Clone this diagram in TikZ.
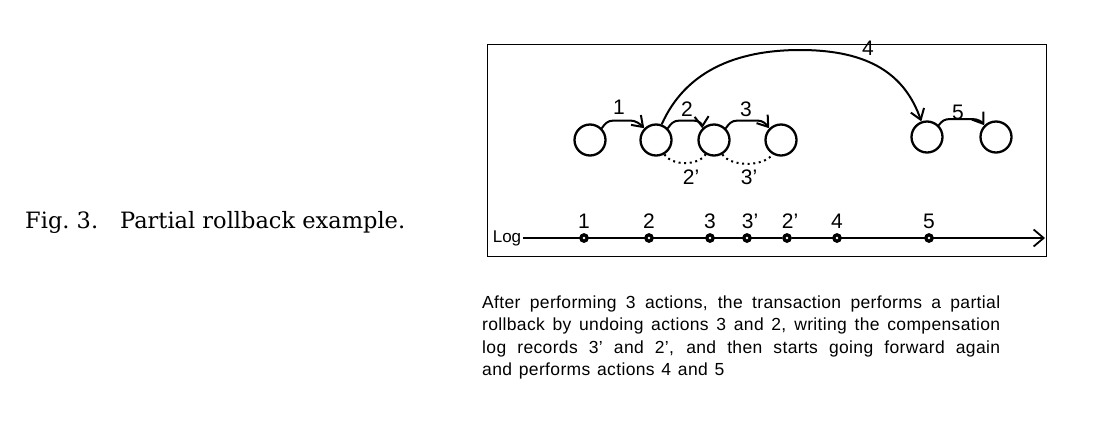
\documentclass[tikz,border=0pt]{standalone}
\usepackage{fontspec}
\setsansfont{Liberation Sans}
\newfontfamily\parafont[LetterSpace=2,WordSpace=1.3]{Liberation Sans}
\newfontfamily\capfont{DejaVu Serif}
\usetikzlibrary{arrows.meta}
\begin{document}
\begin{tikzpicture}[x=1pt,y=-1pt,
  st/.style={circle,draw,line width=2.3pt,minimum size=31pt,inner sep=0pt},
  lab/.style={font=\sffamily\fontsize{21}{21}\selectfont,inner sep=0pt},
  arr/.style={line width=2pt,-{Straight Barb[length=10pt,width=14pt,line width=2pt]}},
  logarr/.style={line width=1.6pt,-{Straight Barb[length=10pt,width=17pt,line width=1.8pt]}},
  dot/.style={circle,fill=black,minimum size=9.5pt,inner sep=0pt,
    path picture={\fill[white] (path picture bounding box.center) circle (1.3pt);}},
  undo/.style={line width=2pt,dash pattern=on 2pt off 3.6pt},
  para/.style={anchor=base west,inner sep=0pt,font=\parafont\fontsize{17.5}{17.5}\selectfont},
]
\useasboundingbox (0,0) rectangle (1115,445);

% caption
\node[anchor=base west,inner sep=0pt,font=\capfont\fontsize{22.5}{22.5}\selectfont] (cap) at (25,228)
  {Fig.~3.\hspace{22pt}Partial rollback example.};

% frame
\node[draw,line width=1.4pt,anchor=north west,minimum width=559pt,minimum height=212pt,inner sep=0pt] (frame) at (487,44) {};

% states
\node[st] (c1) at (590,140) {};
\node[st] (c2) at (656,140) {};
\node[st] (c3) at (714,140) {};
\node[st] (c4) at (781,140) {};
\node[st] (c5) at (927,137) {};
\node[st] (c6) at (996,137) {};

% forward actions
\draw[arr] (c1.45) .. controls (605,124) and (607,120.5) .. (614,120.5) -- (630,120.5)
  .. controls (636,120.5) and (640,124) .. (c2.135);
\draw[arr] (c2.45) .. controls (671,124) and (673,120.5) .. (680,120.5) -- (693,120.5)
  .. controls (699,120.5) and (702,124) .. (c3.135);
\draw[arr] (c3.45) .. controls (729,124) and (731,120.5) .. (738,120.5) -- (757,120.5)
  .. controls (763,120.5) and (766,124) .. (c4.135);
\draw[arr] (c5.45) .. controls (942,121) and (944,119) .. (951,119) -- (972,119)
  .. controls (978,119) and (982,122) .. (c6.135);
\draw[arr] (c2.70) .. controls (685,72) and (735,50) .. (800,50)
  .. controls (870,50) and (905,75) .. (c5.110);

% compensations
\draw[undo] (c2.-60) .. controls (672,166) and (698,166) .. (c3.-120);
\draw[undo] (c3.-60) .. controls (731,167) and (763,167) .. (c4.-120);

% labels
\node[lab] (l1) at (619,107) {1};
\node[lab] (l2) at (687,109) {2};
\node[lab] (l3) at (746,109) {3};
\node[lab] (l4) at (868,48) {4};
\node[lab] (l5) at (958,112) {5};
\node[lab] (l2p) at (691,177) {2'};
\node[lab] (l3p) at (749,177) {3'};

% log
\node[lab,font=\sffamily\fontsize{17}{17}\selectfont] (log) at (507,238) {Log};
\coordinate (logend) at (1045,238);
\node[dot] (d1) at (584,238) {};
\node[dot] (d2) at (649,238) {};
\node[dot] (d3) at (710,238) {};
\node[dot] (d4) at (747,238) {};
\node[dot] (d5) at (787,238) {};
\node[dot] (d6) at (837,238) {};
\node[dot] (d7) at (929,238) {};
\draw[line width=2.6pt] ([xshift=2pt]log.east) -- (d5);
\draw[logarr] (d5) -- (logend);
\foreach \i in {1,...,7}{\node[dot] at (d\i) {};}
\node[lab] (t1) at (584,221) {1};
\node[lab] (t2) at (649,221) {2};
\node[lab] (t3) at (710,221) {3};
\node[lab] (t3p) at (750,221) {3'};
\node[lab] (t2p) at (790,221) {2'};
\node[lab] (t4) at (837,221) {4};
\node[lab] (t5) at (929,221) {5};

% explanation
\node[para] (p1) at (482,308) {\makebox[518pt][s]{After performing 3 actions, the transaction performs a partial}};
\node[para] (p2) at (482,330.5) {\makebox[518pt][s]{rollback by undoing actions 3 and 2, writing the compensation}};
\node[para] (p3) at (482,353) {\makebox[518pt][s]{log records 3’ and 2’, and then starts going forward again}};
\node[para] (p4) at (482,375.5) {and performs actions 4 and 5};
\end{tikzpicture}
\end{document}
